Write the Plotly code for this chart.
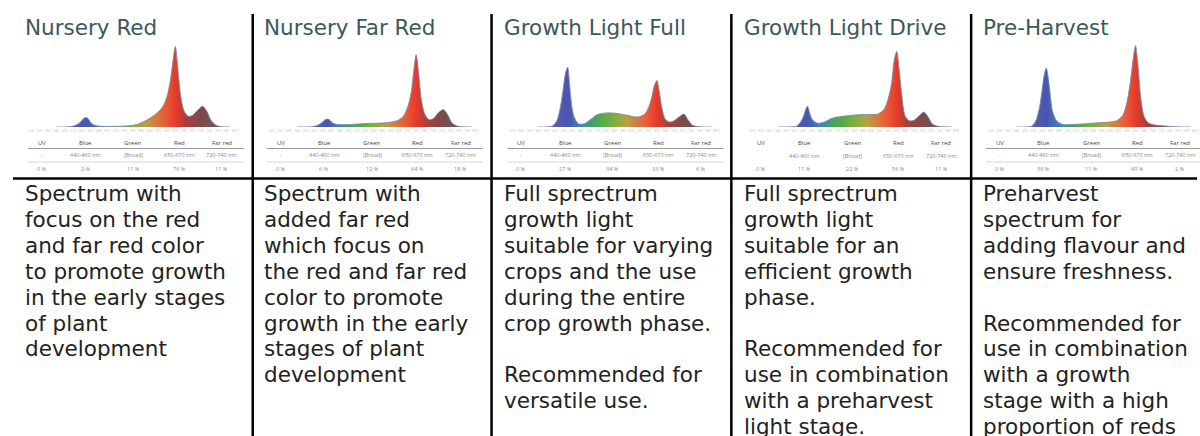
import plotly.graph_objects as go

# ---------------- data ----------------
TITLES = ["Nursery Red", "Nursery Far Red", "Growth Light Full", "Growth Light Drive", "Pre-Harvest"]

WAVELENGTHS = [380, 400, 415, 425, 435, 440, 445, 450, 455, 460, 465, 475, 490, 505, 520, 545,
               570, 595, 615, 630, 640, 648, 654, 660, 666, 672, 680, 690, 700, 712, 724, 734,
               744, 756, 770, 790]

NURSERY_RED = [0, 0, 0.5, 2, 5, 8, 10.5, 11.5, 10, 6, 3.5, 1.5, 0.8, 0.7, 0.8, 1.2,
               3, 9, 16, 24, 36, 55, 78, 97, 70, 40, 20, 13, 14, 20, 25, 19,
               8, 2, 0.3, 0]
NURSERY_FAR_RED = [0, 0, 0.3, 1.5, 4, 6, 8.5, 9.5, 9, 6.5, 4.5, 3, 2.8, 3, 3.5, 4.2,
                   4.6, 5.5, 7.5, 13, 24, 40, 66, 87, 64, 34, 16, 9, 10, 17, 21, 15,
                   5, 1.2, 0.3, 0]
GROWTH_FULL = [0, 0, 1.5, 8, 30, 48, 65, 72, 48, 24, 12, 4, 4, 9.5, 15, 17,
               16, 13.5, 12, 15, 23, 36, 50, 56, 41, 22, 9, 6, 7.5, 12, 15.5, 8,
               2, 0.5, 0, 0]
GROWTH_DRIVE = [0, 0, 0.3, 1, 7, 12, 20, 25, 17, 10, 7, 4.5, 6, 10, 12, 13.5,
                14.8, 15, 15.5, 21, 34, 53, 80, 91, 68, 38, 13, 7.5, 8, 13, 18, 12,
                3.5, 1, 0.2, 0]
PRE_HARVEST = [0, 0, 1, 7, 26, 44, 62, 71, 58, 36, 18, 7, 3, 3, 3.2, 4,
               5, 5.8, 7.5, 14, 30, 55, 80, 98, 73, 37, 13, 5, 3, 2, 1.5, 1,
               0.6, 0.3, 0, 0]
SPECTRA = [NURSERY_RED, NURSERY_FAR_RED, GROWTH_FULL, GROWTH_DRIVE, PRE_HARVEST]

TICK_NM = list(range(320, 801, 20))

BANDS = ["UV", "Blue", "Green", "Red", "Far red"]
BAND_RANGES = ["-", "440-460 nm", "[Broad]", "650-670 nm", "720-740 nm"]
BAND_RANGES_DRIVE = ["", "440-460 nm", "[Broad]", "650-670 nm", "720-740 nm"]
RANGES = [BAND_RANGES, BAND_RANGES, BAND_RANGES, BAND_RANGES_DRIVE, BAND_RANGES]

SHARES_NURSERY_RED = ["0 %", "2 %", "11 %", "76 %", "11 %"]
SHARES_NURSERY_FAR_RED = ["0 %", "6 %", "12 %", "64 %", "18 %"]
SHARES_GROWTH_FULL = ["0 %", "27 %", "34 %", "33 %", "6 %"]
SHARES_GROWTH_DRIVE = ["0 %", "11 %", "22 %", "56 %", "11 %"]
SHARES_PRE_HARVEST = ["0 %", "38 %", "11 %", "49 %", "2 %"]
SHARES = [SHARES_NURSERY_RED, SHARES_NURSERY_FAR_RED, SHARES_GROWTH_FULL,
          SHARES_GROWTH_DRIVE, SHARES_PRE_HARVEST]

DESCRIPTIONS = [
    ["Spectrum with", "focus on the red", "and far red color", "to promote growth",
     "in the early stages", "of plant", "development"],
    ["Spectrum with", "added far red", "which focus on", "the red and far red",
     "color to promote", "growth in the early", "stages of plant", "development"],
    ["Full sprectrum", "growth light", "suitable for varying", "crops and the use",
     "during the entire", "crop growth phase.", "", "Recommended for", "versatile use."],
    ["Full sprectrum", "growth light", "suitable for an", "efficient growth", "phase.", "",
     "Recommended for", "use in combination", "with a preharvest", "light stage."],
    ["Preharvest", "spectrum for", "adding flavour and", "ensure freshness.", "",
     "Recommended for", "use in combination", "with a growth", "stage with a high",
     "proportion of reds"],
]

# ---------------- layout / styling ----------------
W, H = 1200, 436
CONTENT_X = [25, 265, 507, 748, 988]
CHART_SHIFT = [-2, 0, 0, 0, 0]
TEXT_SHIFT = -5
COL_OFFSETS = [14, 58, 106, 152, 195]
TABLE_LINES = [True, True, True, False, True]
DIVIDERS_X = [251, 491, 732, 973]
FONT_MAIN = "DejaVu Sans"
BODY_SIZE = 21.5
BODY_FIRST_CENTER = 193.5
BODY_LINE_STEP = 25.9


def px(x):
    return x / W


def py(y):
    return 1 - y / H


SPECTRUM_SCALE = [
    [0.00, "#9a9cbc"],
    [0.10, "#5c5aa8"],
    [0.17, "#4656b2"],
    [0.23, "#4a78b4"],
    [0.28, "#3a9890"],
    [0.34, "#4aa84c"],
    [0.43, "#78b042"],
    [0.51, "#b8a040"],
    [0.57, "#d67a3e"],
    [0.63, "#ea5634"],
    [0.68, "#e63a2a"],
    [0.74, "#a8403c"],
    [0.83, "#7a4a4a"],
    [0.92, "#6a5a62"],
    [1.00, "#8a8a9a"],
]

fig = go.Figure()
annotations = []
shapes = []

for i in range(5):
    x0 = CONTENT_X[i]
    cx0 = x0 + CHART_SHIFT[i]
    ax = "" if i == 0 else str(i + 1)
    fig.add_trace(go.Scatter(
        x=WAVELENGTHS, y=SPECTRA[i], mode="lines",
        line=dict(color="rgba(130,135,165,0.9)", width=1, shape="spline", smoothing=0.8),
        fill="tozeroy",
        fillgradient=dict(type="horizontal", colorscale=SPECTRUM_SCALE, start=380, stop=790),
        xaxis="x" + ax, yaxis="y" + ax, showlegend=False, hoverinfo="skip",
    ))
    fig.layout["xaxis" + ax] = dict(
        domain=[px(cx0 + 5), px(cx0 + 210)], range=[320, 800], anchor="y" + ax,
        showgrid=False, zeroline=False, showline=False, ticks="",
        tickvals=TICK_NM, ticktext=[str(t) for t in TICK_NM],
        tickfont=dict(size=3.5, color="#c4c4c4", family="Open Sans"), fixedrange=True,
    )
    fig.layout["yaxis" + ax] = dict(
        domain=[py(127), py(44)], range=[0, 100], anchor="x" + ax,
        showgrid=False, zeroline=False, showline=False, showticklabels=False, fixedrange=True,
    )

    # title
    annotations.append(dict(
        x=px(x0 + TEXT_SHIFT), y=py(27.6), xref="paper", yref="paper", xanchor="left", yanchor="middle",
        text=TITLES[i], showarrow=False,
        font=dict(family=FONT_MAIN, size=21.5, color="#3b585c"),
    ))

    # small band table
    row_y = [143, 156 if i == 3 else 155, 169]
    for j in range(5):
        cx = x0 + COL_OFFSETS[j]
        annotations.append(dict(
            x=px(cx), y=py(row_y[0]), xref="paper", yref="paper", xanchor="center", yanchor="middle",
            text=BANDS[j], showarrow=False, font=dict(family="Open Sans", size=6, color="#444")))
        annotations.append(dict(
            x=px(cx), y=py(row_y[1]), xref="paper", yref="paper", xanchor="center", yanchor="middle",
            text=RANGES[i][j], showarrow=False, font=dict(family="Open Sans", size=5.5, color="#8a8a8a")))
        annotations.append(dict(
            x=px(cx), y=py(row_y[2]), xref="paper", yref="paper", xanchor="center", yanchor="middle",
            text=SHARES[i][j], showarrow=False, font=dict(family="Open Sans", size=5.5, color="#8a8a8a")))
    if TABLE_LINES[i]:
        shapes.append(dict(type="line", xref="paper", yref="paper",
                           x0=px(x0), x1=px(x0 + 217), y0=py(148.5), y1=py(148.5),
                           line=dict(color="#9a9a9a", width=1)))
        shapes.append(dict(type="line", xref="paper", yref="paper",
                           x0=px(x0), x1=px(x0 + 217), y0=py(162), y1=py(162),
                           line=dict(color="#d6d6d6", width=1)))

    # description, one annotation per line
    for k, line_text in enumerate(DESCRIPTIONS[i]):
        if not line_text:
            continue
        annotations.append(dict(
            x=px(x0 + TEXT_SHIFT), y=py(BODY_FIRST_CENTER + k * BODY_LINE_STEP), xref="paper", yref="paper",
            xanchor="left", yanchor="middle", align="left", text=line_text, showarrow=False,
            font=dict(family=FONT_MAIN, size=BODY_SIZE, color="#222222"),
        ))

# frame lines
shapes.append(dict(type="line", xref="paper", yref="paper", x0=px(10), x1=px(1200),
                   y0=py(178.5), y1=py(178.5), line=dict(color="#000000", width=2.5)))
for dx in DIVIDERS_X:
    shapes.append(dict(type="line", xref="paper", yref="paper", x0=px(dx), x1=px(dx),
                       y0=py(14), y1=py(436), line=dict(color="#000000", width=2.5)))

fig.update_layout(
    width=W, height=H, margin=dict(l=0, r=0, t=0, b=0),
    paper_bgcolor="white", plot_bgcolor="rgba(0,0,0,0)",
    annotations=annotations, shapes=shapes, showlegend=False,
)

fig.write_html(
    "out.html",
    config={"displayModeBar": False},
    post_script="document.body.style.margin='0';document.body.style.overflow='hidden';",
)
